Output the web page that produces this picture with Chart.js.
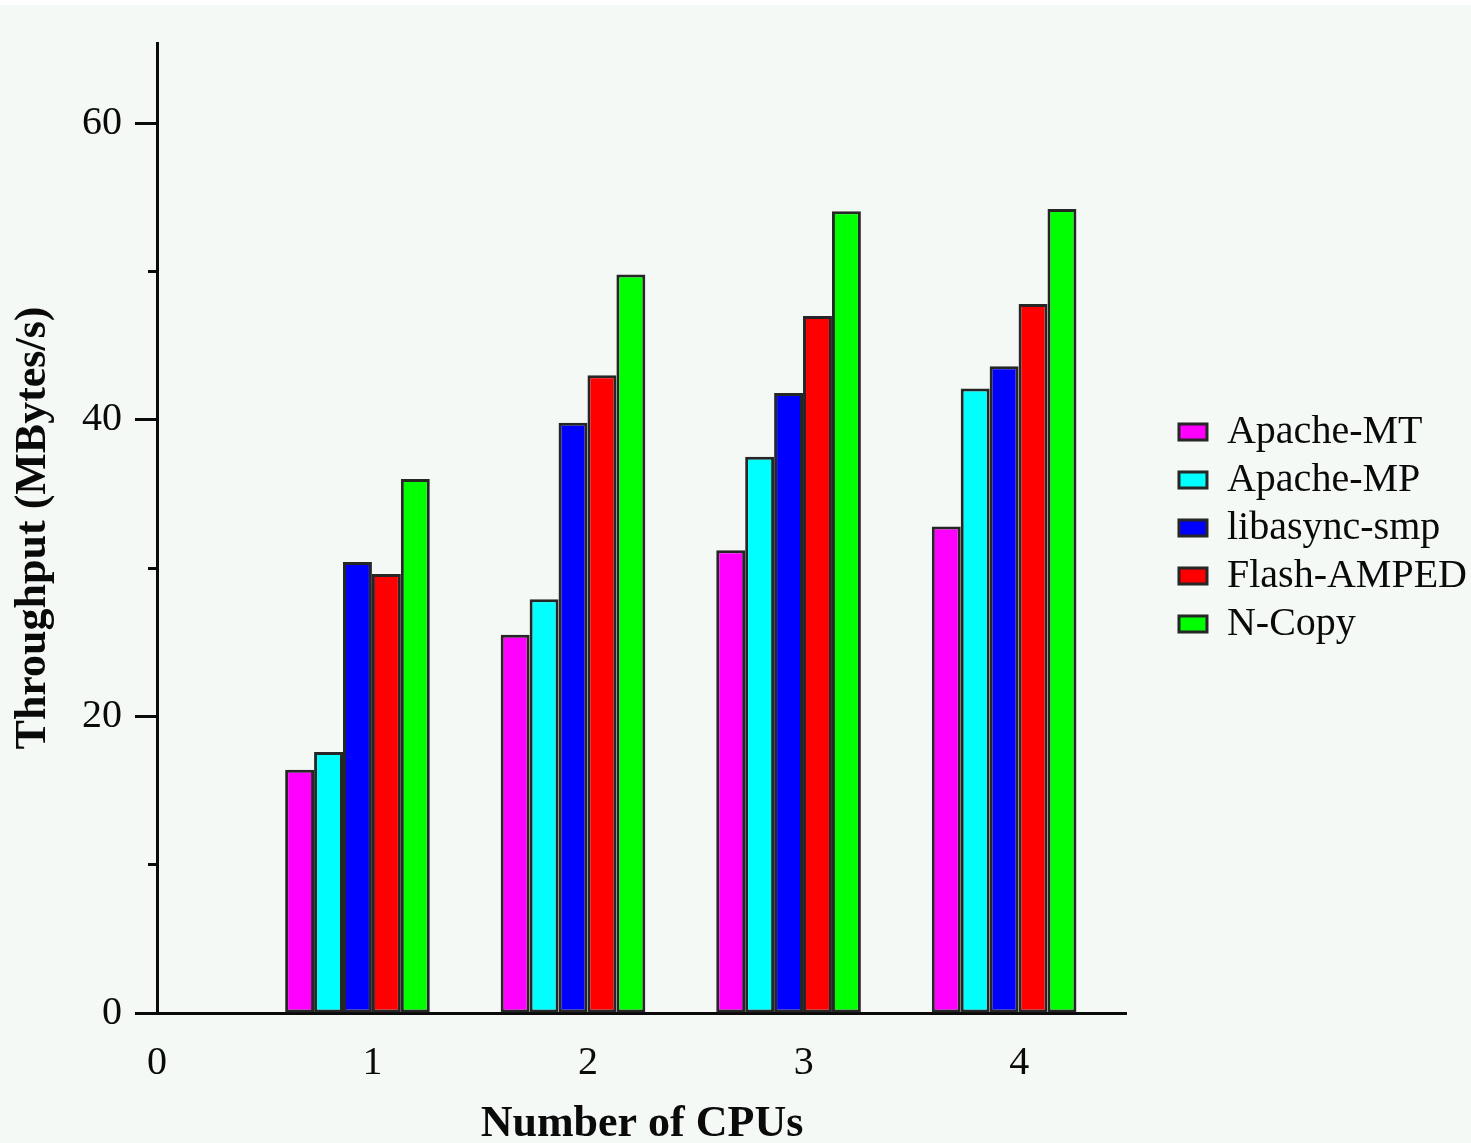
<!DOCTYPE html>
<html><head><meta charset="utf-8">
<script src="https://cdn.jsdelivr.net/npm/chart.js@4.4.1/dist/chart.umd.min.js"></script>
<style>
html,body{margin:0;padding:0;background:#fff;}
canvas{display:block;background:linear-gradient(to bottom,#ffffff 0,#ffffff 5px,#f4f9f6 5px,#f4f9f6 100%);}
</style>
</head><body>
<canvas id="c" width="1471" height="1143"></canvas>
<script>
const categories = [1, 2, 3, 4];
const seriesNames = ['Apache-MT', 'Apache-MP', 'libasync-smp', 'Flash-AMPED', 'N-Copy'];
const apacheMT    = [16.4, 25.5, 31.2, 32.8];
const apacheMP    = [17.6, 27.9, 37.5, 42.1];
const libasyncSmp = [30.4, 39.8, 41.8, 43.6];
const flashAMPED  = [29.6, 43.0, 47.0, 47.8];
const nCopy       = [36.0, 49.8, 54.05, 54.2];
const seriesColors = ['#ff00ff', '#00ffff', '#0000ff', '#ff0000', '#00ff00'];
const xTickValues = [0, 1, 2, 3, 4];
const xTickLabels = ['0', '1', '2', '3', '4'];
const yTickValues = [0, 20, 40, 60];
const yTickLabels = ['0', '20', '40', '60'];
const yMinorTickValues = [10, 30, 50];

const FONT = "'Liberation Serif', 'DejaVu Serif', serif";
const INK = '#0a0a0a';
const EDGE = '#262626';

const allSeries = [apacheMT, apacheMP, libasyncSmp, flashAMPED, nCopy];
const datasets = allSeries.map((vals, i) => ({
  label: seriesNames[i],
  data: categories.map((c, j) => ({x: c, y: vals[j]})),
  backgroundColor: seriesColors[i],
  borderColor: EDGE,
  borderWidth: 3,
  borderSkipped: false,
  xAxisID: 'xb',
  yAxisID: 'y',
  categoryPercentage: 0.671,
  barPercentage: 1.0
}));

new Chart(document.getElementById('c'), {
  type: 'bar',
  data: {datasets},
  options: {
    responsive: false,
    animation: false,
    devicePixelRatio: 1,
    layout: {padding: {top: 43, left: 0, right: -6, bottom: 0}},
    plugins: {
      tooltip: {enabled: false},
      legend: {
        position: 'right',
        fullSize: false,
        maxWidth: 420,
        labels: {
          font: {family: FONT, size: 40},
          color: INK,
          boxWidth: 28,
          boxHeight: 16,
          padding: 8
        }
      }
    },
    scales: {
      x: {
        type: 'linear',
        min: 0, max: 4.5,
        offset: false,
        grid: {display: true, drawOnChartArea: false, drawTicks: false, offset: false},
        border: {display: true, color: INK, width: 3},
        afterBuildTicks: s => { s.ticks = xTickValues.map(v => ({value: v})); },
        ticks: {
          font: {family: FONT, size: 40},
          color: INK,
          padding: 26,
          maxRotation: 0,
          autoSkip: false,
          callback: (v, i) => xTickLabels[i]
        },
        title: {
          display: true,
          text: 'Number of CPUs',
          font: {family: FONT, size: 44, weight: 'bold', lineHeight: 0.85},
          color: INK,
          padding: {top: 0, bottom: 0}
        },
        afterFit: s => { s.height = 130; }
      },
      xb: {
        type: 'linear',
        display: false,
        min: 0.07, max: 4.57,
        offset: false,
        grid: {offset: false},
        afterBuildTicks: s => { s.ticks = categories.map(v => ({value: v})); }
      },
      y: {
        type: 'linear',
        position: 'left',
        min: 0, max: 65.4,
        grid: {drawOnChartArea: false, drawTicks: true, tickLength: 22, tickWidth: 3, tickColor: INK},
        border: {display: true, color: INK, width: 3},
        afterBuildTicks: s => { s.ticks = yTickValues.map(v => ({value: v})); },
        ticks: {
          font: {family: FONT, size: 40},
          color: INK,
          padding: 13,
          autoSkip: false,
          callback: (v, i) => yTickLabels[i]
        },
        title: {
          display: true,
          text: 'Throughput (MBytes/s)',
          font: {family: FONT, size: 44, weight: 'bold', lineHeight: 1.0},
          color: INK,
          padding: {top: 12, bottom: 0}
        },
        afterFit: s => { s.width = 157; }
      },
      yMinor: {
        type: 'linear',
        position: {x: 0},
        min: 0, max: 65.4,
        grid: {drawOnChartArea: false, drawTicks: true, tickLength: 9, tickWidth: 3, tickColor: INK},
        border: {display: false},
        afterBuildTicks: s => { s.ticks = yMinorTickValues.map(v => ({value: v})); },
        ticks: {display: false}
      },
      yR: {
        type: 'linear',
        position: 'right',
        display: true,
        grid: {display: false, drawTicks: false},
        border: {display: false},
        ticks: {display: false},
        afterFit: s => { s.width = 44; }
      }
    }
  }
});
</script>
</body></html>
